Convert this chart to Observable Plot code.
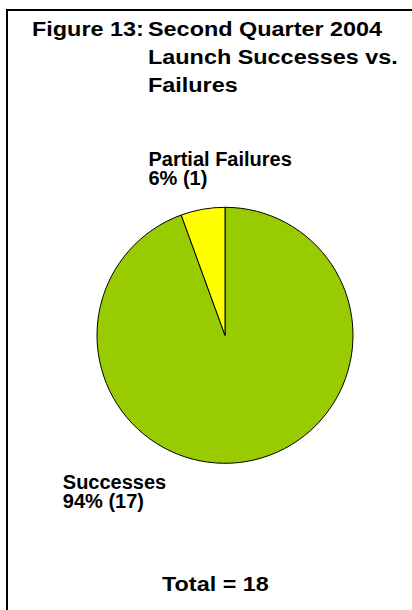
<!DOCTYPE html>
<html>
<head>
<meta charset="utf-8">
<script src="https://cdn.jsdelivr.net/npm/d3@7"></script>
<script src="https://cdn.jsdelivr.net/npm/@observablehq/plot@0.6"></script>
<style>
  html, body { margin: 0; padding: 0; background: #fff; overflow: hidden; }
  #wrap { position: relative; width: 412px; height: 610px; overflow: hidden; font-family: 'Liberation Sans', Arial, sans-serif; font-weight: bold; color: #000; }
  #frame { position: absolute; left: 6px; top: 9px; width: 500px; height: 700px; border-left: 2.5px solid #000; border-top: 2.5px solid #000; }
  .ttl { position: absolute; font-size: 20px; line-height: 28.3px; white-space: nowrap; transform: scaleX(1.17); transform-origin: left top; }
  #chart { position: absolute; left: 0; top: 0; }
</style>
</head>
<body>
<div id="wrap">
  <div id="frame"></div>
  <div id="chart"></div>
  <div class="ttl" id="t1" style="left:32px; top:14.6px;"></div>
  <div class="ttl" id="t2" style="left:148px; top:14.6px;"></div>
  <div class="ttl" id="total" style="left:161.5px; top:570px;"></div>
</div>
<script>
// ---- data ----
const figureLabel = "Figure 13:";
const titleLines = ["Second Quarter 2004", "Launch Successes vs.", "Failures"];
const categories = ["Successes", "Partial Failures"];
const counts = [17, 1];
const sliceColors = ["#99CC00", "#FFFF00"];

// ---- derived ----
const total = d3.sum(counts);
const data = categories.map((c, i) => ({
  label: c,
  value: counts[i],
  text: `${c}\n${Math.round(counts[i] / total * 100)}% (${counts[i]})`
}));

document.getElementById("t1").textContent = figureLabel;
document.getElementById("t2").innerHTML = titleLines.join("<br>");
document.getElementById("total").textContent = `Total = ${total}`;

const color = d3.scaleOrdinal(categories, sliceColors);

// label placement (layout, in pie-radius units)
const labelPos = {
  "Partial Failures": {x: -0.602, y: 1.432},
  "Successes": {x: -1.271, y: -1.094}
};
const labels = data.map(d => ({...d, lx: labelPos[d.label].x, ly: labelPos[d.label].y}));

const pieMark = (index, scales) => {
  const cx = scales.x(0), cy = scales.y(0);
  const r = scales.x(1) - scales.x(0);
  const arcs = d3.pie().sort(null).value(d => d.value)(data);
  const g = d3.create("svg:g");
  g.selectAll("path").data(arcs).join("path")
    .attr("transform", `translate(${cx},${cy})`)
    .attr("d", d3.arc().innerRadius(0).outerRadius(r))
    .attr("fill", d => color(d.data.label))
    .attr("stroke", "#000")
    .attr("stroke-width", 1)
    .attr("stroke-linejoin", "round");
  return g.node();
};

const plot = Plot.plot({
  width: 412,
  height: 610,
  margin: 0,
  style: {fontFamily: "'Liberation Sans', Arial, sans-serif", background: "transparent", overflow: "visible"},
  x: {domain: [-1, 1], range: [97, 353], axis: null},
  y: {domain: [-1, 1], range: [463.3, 207.3], axis: null},
  marks: [
    pieMark,
    Plot.text(labels, {
      x: "lx", y: "ly", text: "text",
      textAnchor: "start", lineAnchor: "top", lineHeight: 0.95,
      fontSize: 20, fontWeight: "bold", fill: "#000"
    })
  ]
});
document.getElementById("chart").appendChild(plot);
</script>
</body>
</html>
